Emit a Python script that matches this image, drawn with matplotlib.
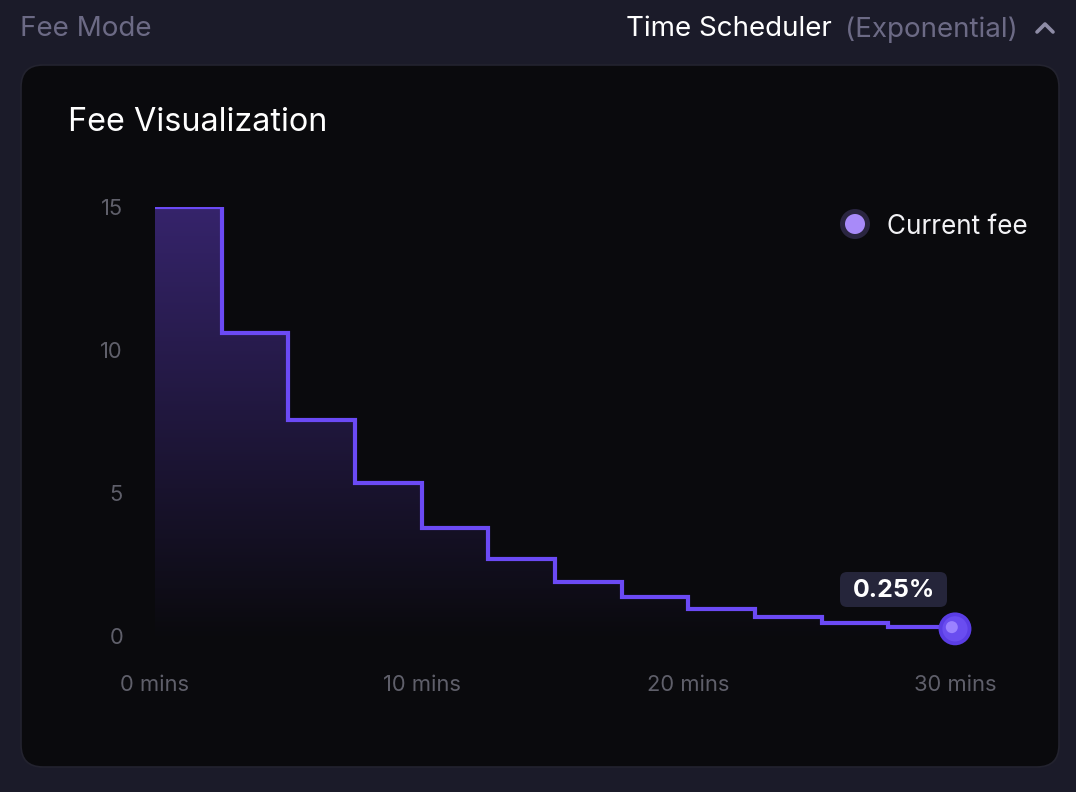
import matplotlib
matplotlib.use("Agg")
import matplotlib.pyplot as plt
import numpy as np
from matplotlib.patches import FancyBboxPatch, Circle, Polygon

plt.rcParams['font.family'] = ['Inter', 'DejaVu Sans']

# ---- data ----
step_times = [0, 2.5, 5, 7.5, 10, 12.5, 15, 17.5, 20, 22.5, 25, 27.5, 30]
step_fees = [15, 10.6, 7.55, 5.35, 3.78, 2.69, 1.89, 1.36, 0.94, 0.66, 0.45, 0.31, 0.31]
current_time = 30
current_fee = 0.25
current_label = "0.25%"
x_ticks = [0, 10, 20, 30]
x_tick_labels = ["0 mins", "10 mins", "20 mins", "30 mins"]
y_ticks = [0, 5, 10, 15]
y_tick_labels = ["0", "5", "10", "15"]

W, H = 1076, 792
fig = plt.figure(figsize=(W / 100, H / 100), dpi=100)
fig.patch.set_facecolor('#1b1b29')

# background / pixel axes
bg = fig.add_axes([0, 0, 1, 1])
bg.set_xlim(0, W)
bg.set_ylim(H, 0)
bg.axis('off')
card = FancyBboxPatch((21, 65), 1038, 702, boxstyle="round,pad=0,rounding_size=22",
                      facecolor='#0a0a0d', edgecolor='#23232f', linewidth=1.2)
bg.add_patch(card)
bg.text(20, 29.5, "Fee Mode", color='#6c6a85', fontsize=20, va='center', ha='left')
bg.text(626, 29.5, "Time Scheduler", color='#ffffff', fontsize=20, va='center', ha='left')
bg.text(845, 29.5, "(Exponential)", color='#6c6a85', fontsize=20, va='center', ha='left')
bg.plot([1037, 1045, 1053], [32, 24, 32], color='#8e8ca6', lw=2.6, solid_capstyle='round',
        solid_joinstyle='round')
bg.text(68, 122.5, "Fee Visualization", color='#ffffff', fontsize=23.3, va='center', ha='left')

# legend
bg.add_patch(Circle((855, 224), 15, facecolor='#2a2540', edgecolor='none'))
bg.add_patch(Circle((855, 224), 10, facecolor='#a88af9', edgecolor='none'))
bg.text(887, 226.5, "Current fee", color='#f2f2f5', fontsize=18.8, va='center', ha='left')

# tooltip
bg.add_patch(FancyBboxPatch((840, 572), 107, 35, boxstyle="round,pad=0,rounding_size=7",
                            facecolor='#25253a', edgecolor='none'))
bg.text(893.5, 590.5, current_label, color='#ffffff', fontsize=18, fontweight='bold',
        va='center', ha='center')

# main chart axes
x0, x1 = 155, 955
y0, y1 = 636, 207
ax = fig.add_axes([x0 / W, 1 - y0 / H, (x1 - x0) / W, (y0 - y1) / H])
ax.set_xlim(0, 30)
ax.set_ylim(0, 15)
ax.patch.set_alpha(0)
for s in ax.spines.values():
    s.set_visible(False)

# gradient fill under the step line
xs, ys = [], []
for i in range(len(step_times) - 1):
    xs += [step_times[i], step_times[i + 1]]
    ys += [step_fees[i], step_fees[i]]
poly_pts = [(step_times[0], 0)] + list(zip(xs, ys)) + [(step_times[-1], 0)]
poly = Polygon(poly_pts, closed=True, facecolor='none', edgecolor='none')
ax.add_patch(poly)
grad = np.linspace(1, 0, 256).reshape(-1, 1)
top = np.array([0.21, 0.14, 0.42])
bot = np.array([0.04, 0.04, 0.055])
img = (grad[..., None] * top + (1 - grad[..., None]) * bot)
img = np.repeat(img, 2, axis=1)
im = ax.imshow(img, extent=[0, 30, 0, 15], aspect='auto', origin='upper', zorder=1)
im.set_clip_path(poly)

ax.step(step_times, step_fees, where='post', color='#6b4af5', lw=3, zorder=3,
        solid_joinstyle='miter')

# current point marker
ax.scatter([current_time], [current_fee], s=560, color='#5a3de4', zorder=4, clip_on=False,
           edgecolors='none')
ax.scatter([current_time], [current_fee], s=330, color='#6a4df0', zorder=4, clip_on=False,
           edgecolors='none')
ax.scatter([current_time - 0.12], [current_fee + 0.06], s=75, color='#9b82ff', zorder=5,
           clip_on=False, edgecolors='none')

ax.set_xticks(x_ticks)
ax.set_xticklabels(x_tick_labels)
ax.set_yticks(y_ticks)
ax.set_yticklabels(y_tick_labels)
ax.tick_params(axis='both', length=0, colors='#5f5f6a', labelsize=15.8)
ax.tick_params(axis='x', pad=28)
ax.tick_params(axis='y', pad=23)

fig.savefig("out.png", dpi=100, facecolor=fig.get_facecolor())
